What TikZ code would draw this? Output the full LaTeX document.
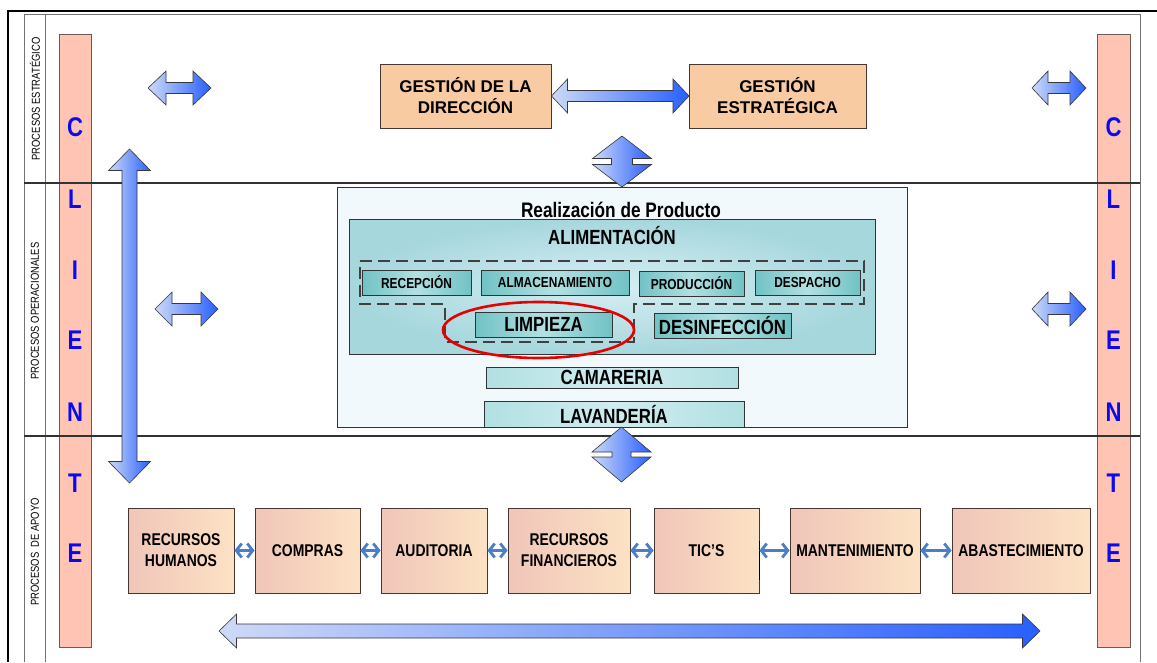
\documentclass[tikz,border=0pt]{standalone}
\usepackage{fontspec}
\setmainfont{Liberation Sans}
\newfontfamily\narrowsans[FakeStretch=0.82]{Liberation Sans}
\usetikzlibrary{arrows.meta}

\definecolor{cbarfill}{RGB}{255,196,180}
\definecolor{cbaredge}{RGB}{110,90,85}
\definecolor{letterblue}{RGB}{10,10,240}
\definecolor{topfill}{RGB}{248,203,163}
\definecolor{botleft}{RGB}{240,198,185}
\definecolor{botright}{RGB}{252,226,196}
\definecolor{boxedge}{RGB}{70,55,50}
\definecolor{arrowlight}{RGB}{205,218,246}
\definecolor{arrowdark}{RGB}{40,95,255}
\definecolor{arrowedge}{RGB}{55,55,60}
\definecolor{linkblue}{RGB}{74,126,200}
\definecolor{tealdark}{RGB}{112,194,196}
\definecolor{teallight}{RGB}{178,224,226}
\definecolor{tealpale}{RGB}{208,236,240}
\definecolor{outerfill}{RGB}{242,249,252}
\definecolor{alimouter}{RGB}{166,215,221}
\definecolor{aliminner}{RGB}{214,238,243}
\definecolor{markred}{RGB}{230,0,0}
\definecolor{divider}{RGB}{50,50,50}

% horizontal double block arrow: x1, x2, yc, shaft half, head half, head length
\newcommand\hbiarrow[6]{%
  \path[blockarrow] (#1,#3) -- (#1+#6,#3-#5) -- (#1+#6,#3-#4) -- (#2-#6,#3-#4)
    -- (#2-#6,#3-#5) -- (#2,#3) -- (#2-#6,#3+#5) -- (#2-#6,#3+#4)
    -- (#1+#6,#3+#4) -- (#1+#6,#3+#5) -- cycle;}
% vertical double block arrow: xc, y1, y2, shaft half, head half, head length
\newcommand\vbiarrow[6]{%
  \path[blockarrow] (#1,#2) -- (#1+#5,#2+#6) -- (#1+#4,#2+#6) -- (#1+#4,#3-#6)
    -- (#1+#5,#3-#6) -- (#1,#3) -- (#1-#5,#3-#6) -- (#1-#4,#3-#6)
    -- (#1-#4,#2+#6) -- (#1-#5,#2+#6) -- cycle;}

\begin{document}
\begin{tikzpicture}[x=1pt,y=-1pt,
  frameline/.style={line width=2.4pt,black},
  gridline/.style={line width=0.8pt,black!55},
  bandline/.style={line width=1.3pt,divider},
  cbar/.style={draw=cbaredge,line width=0.8pt,fill=cbarfill},
  cletter/.style={font=\narrowsans\bfseries\fontsize{27}{27}\selectfont,text=letterblue,inner sep=0pt},
  bandlabel/.style={rotate=90,font=\narrowsans\fontsize{11.5}{12}\selectfont,inner sep=0pt},
  blockarrow/.style={draw=arrowedge,line width=0.6pt,left color=arrowlight,right color=arrowdark},
  topbox/.style={draw=boxedge,line width=0.8pt,fill=topfill,align=center,inner sep=0pt,
    minimum height=64pt,font=\bfseries\fontsize{17}{21}\selectfont},
  supportbox/.style={draw=boxedge,line width=0.9pt,left color=botleft,right color=botright,
    align=center,inner sep=0pt,minimum height=85pt,font=\narrowsans\bfseries\fontsize{17}{21}\selectfont},
  stagebox/.style={draw=black!80,line width=0.8pt,left color=tealdark,right color=tealdark,
    middle color=teallight,inner sep=0pt,minimum height=25pt,
    font=\narrowsans\bfseries\fontsize{14.5}{15}\selectfont},
  taskbox/.style={draw=black!80,line width=0.8pt,left color=tealdark,right color=tealdark,
    middle color=teallight,inner sep=0pt,minimum height=25pt,
    font=\narrowsans\bfseries\fontsize{20.5}{21}\selectfont},
  servicebox/.style={draw=black!80,line width=0.8pt,left color=teallight,right color=teallight,
    middle color=tealpale,inner sep=0pt,font=\narrowsans\bfseries\fontsize{20.5}{21}\selectfont},
  link/.style={linkblue,line width=2.8pt,
    {Straight Barb[length=5.5pt,width=14pt]}-{Straight Barb[length=5.5pt,width=14pt]}}
]
\useasboundingbox (0,0) rectangle (1157,662);
\fill[white] (0,0) rectangle (1157,662);

% page frame and band grid
\draw[gridline] (24,662) -- (24,14) -- (1140,14) -- (1140,662);
\draw[gridline] (45,14) -- (45,662);
\draw[frameline] (8,662) -- (8,11) -- (1157,11);

% client bars
\draw[cbar] (59,34) rectangle (91,647);
\draw[cbar] (1097,34) rectangle (1130,647);

% band dividers
\draw[bandline] (24,183) -- (1140,183);
\draw[bandline] (24,436) -- (1140,436);

% band titles
\node[bandlabel] (lab1) at (35,99) {PROCESOS ESTRATÉGICO};
\node[bandlabel] (lab2) at (35,311) {PROCESOS OPERACIONALES};
\node[bandlabel] (lab3) at (35,552) {PROCESOS\ \ DE APOYO};

% CLIENTE letters
\foreach \l/\y [count=\i] in {C/127,L/199,I/270,E/340,N/412,T/483,E/553}{
  \node[cletter] (cl\i) at (75,\y) {\l};
  \node[cletter] (cr\i) at (1113.5,\y) {\l};
}

% decorative block arrows
\hbiarrow{148}{211}{88}{5.5}{17}{18}
\hbiarrow{1032}{1086}{88}{5.5}{17}{16}
\hbiarrow{155}{218}{309}{5.5}{17}{17}
\hbiarrow{1032}{1086}{309}{5.5}{17}{16}
\vbiarrow{129.5}{149}{483}{7.5}{21}{21.5}
\hbiarrow{219}{1040}{631}{7}{17}{17.5}

% strategic processes
\node[topbox,minimum width=171pt] (gd) at (465.5,96) {GESTIÓN DE LA\\DIRECCIÓN};
\node[topbox,minimum width=177pt] (ge) at (777.5,96) {GESTIÓN\\ESTRATÉGICA};
\hbiarrow{551.5}{689}{96}{5.5}{17}{16}

% product realisation block
\node[draw=black!80,line width=0.8pt,fill=outerfill,minimum width=570pt,minimum height=240pt,inner sep=0pt] (rp) at (622,307) {};
\node[font=\narrowsans\bfseries\fontsize{21}{21}\selectfont,inner sep=0pt] (rptitle) at (621,210) {Realización de Producto};
\node[draw=black!80,line width=0.8pt,inner color=aliminner,outer color=alimouter,minimum width=526pt,minimum height=135pt,inner sep=0pt] (al) at (612,286.5) {};
\node[font=\narrowsans\bfseries\fontsize{20.5}{21}\selectfont,inner sep=0pt] (altitle) at (612,236) {ALIMENTACIÓN};

% grouping outline of the food stages
\draw[black!75,line width=1.1pt,dash pattern=on 12pt off 6pt]
  (360,261) -- (864,261) -- (864,304) -- (634,304) -- (634,342) -- (445,342) -- (445,304) -- (360,304) -- cycle;

\node[stagebox,minimum width=109pt] (rec) at (416.5,282.5) {RECEPCIÓN};
\node[stagebox,minimum width=148pt] (alm) at (555,282.5) {ALMACENAMIENTO};
\node[stagebox,minimum width=105pt] (pro) at (691.5,283.5) {PRODUCCIÓN};
\node[stagebox,minimum width=105pt] (des) at (807.5,282.5) {DESPACHO};
\node[taskbox,minimum width=137pt] (lim) at (543.5,324.5) {LIMPIEZA};
\node[taskbox,minimum width=137pt] (dsf) at (722.5,325.5) {DESINFECCIÓN};

\node[servicebox,minimum width=252pt,minimum height=21pt] (cam) at (612,377.5) {CAMARERIA};
\node[servicebox,minimum width=260pt,minimum height=26pt] (lav) at (614,414) {LAVANDERÍA};

% highlight around cleaning
\draw[markred,line width=2.6pt] (538.5,330) ellipse [x radius=95.5pt,y radius=28pt];

% links between bands
\vbiarrow{622}{136}{187}{10.5}{29.5}{22.5}
\vbiarrow{621.5}{427}{482}{9.5}{29.5}{25}

% support processes
\node[supportbox,minimum width=106pt] (rh) at (181,550.5) {RECURSOS\\HUMANOS};
\node[supportbox,minimum width=105pt] (co) at (307.5,550.5) {COMPRAS};
\node[supportbox,minimum width=106pt] (au) at (434,550.5) {AUDITORIA};
\node[supportbox,minimum width=122pt] (rf) at (569,550.5) {RECURSOS\\FINANCIEROS};
\node[supportbox,minimum width=105pt] (tc) at (706.5,550.5) {TIC’S};
\node[supportbox,minimum width=130pt] (mt) at (855,550.5) {MANTENIMIENTO};
\node[supportbox,minimum width=138pt] (ab) at (1021,550.5) {ABASTECIMIENTO};
\draw[line width=1.8pt,black] ([yshift=10pt]tc.east) -- ([yshift=-29pt]tc.east);

\draw[link] (rh.east) -- (co.west);
\draw[link] (co.east) -- (au.west);
\draw[link] (au.east) -- (rf.west);
\draw[link] (rf.east) -- (tc.west);
\draw[link] (tc.east) -- (mt.west);
\draw[link] (mt.east) -- (ab.west);
\end{tikzpicture}
\end{document}
